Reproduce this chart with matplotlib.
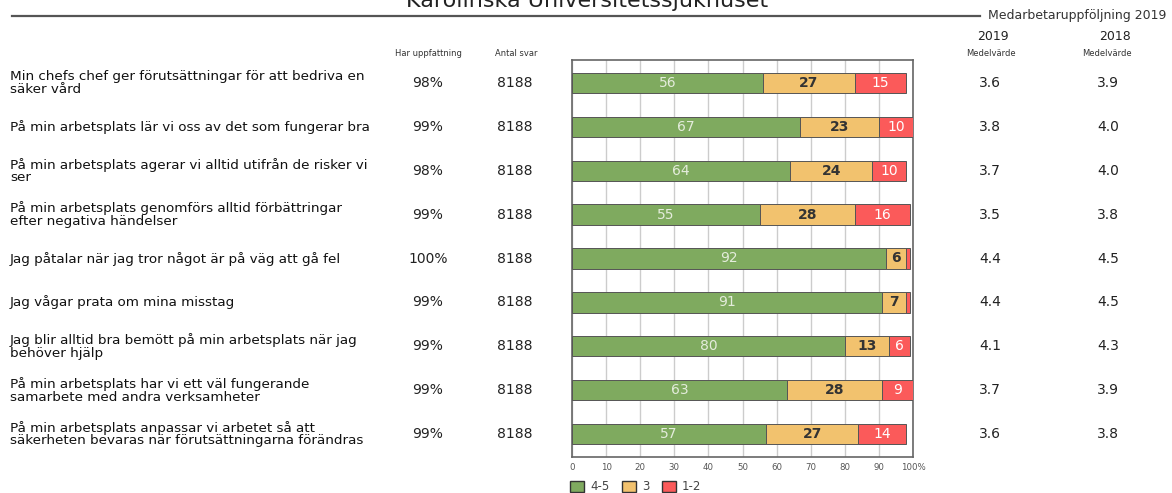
import matplotlib.pyplot as plt
from matplotlib.patches import Rectangle

plt.rcParams['font.family'] = ['DejaVu Sans']

questions = [
    "Min chefs chef ger förutsättningar för att bedriva en\nsäker vård",
    "På min arbetsplats lär vi oss av det som fungerar bra",
    "På min arbetsplats agerar vi alltid utifrån de risker vi\nser",
    "På min arbetsplats genomförs alltid förbättringar\nefter negativa händelser",
    "Jag påtalar när jag tror något är på väg att gå fel",
    "Jag vågar prata om mina misstag",
    "Jag blir alltid bra bemött på min arbetsplats när jag\nbehöver hjälp",
    "På min arbetsplats har vi ett väl fungerande\nsamarbete med andra verksamheter",
    "På min arbetsplats anpassar vi arbetet så att\nsäkerheten bevaras när förutsättningarna förändras",
]
har_uppfattning = ["98%", "99%", "98%", "99%", "100%", "99%", "99%", "99%", "99%"]
antal_svar = [8188] * 9
green = [56, 67, 64, 55, 92, 91, 80, 63, 57]
yellow = [27, 23, 24, 28, 6, 7, 13, 28, 27]
red = [15, 10, 10, 16, 1, 1, 6, 9, 14]
mean_2019 = [3.6, 3.8, 3.7, 3.5, 4.4, 4.4, 4.1, 3.7, 3.6]
mean_2018 = [3.9, 4.0, 4.0, 3.8, 4.5, 4.5, 4.3, 3.9, 3.8]
legend_labels = ["4-5", "3", "1-2"]

c_green = "#7faa5f"
c_yellow = "#f2c26e"
c_red = "#fb5a5a"
colors = [c_green, c_yellow, c_red]

W, H = 1172, 493
fig = plt.figure(figsize=(W / 100, H / 100), dpi=100)


def fx(px):
    return px / W


def fy(py):
    return 1 - py / H


ax = fig.add_axes([fx(572), fy(457), 341 / W, 397 / H])

rows = list(range(len(questions)))
left_red = [g + y for g, y in zip(green, yellow)]
ax.barh(rows, green, height=0.46, color=c_green, edgecolor="#555555", linewidth=0.7, zorder=3)
ax.barh(rows, yellow, left=green, height=0.46, color=c_yellow, edgecolor="#555555", linewidth=0.7, zorder=3)
ax.barh(rows, red, left=left_red, height=0.46, color=c_red, edgecolor="#555555", linewidth=0.7, zorder=3)

for i in rows:
    ax.text(green[i] / 2, i, str(green[i]), ha="center", va="center", color="#e4ecdc", fontsize=10, zorder=4)
    if yellow[i] >= 4:
        ax.text(green[i] + yellow[i] / 2, i, str(yellow[i]), ha="center", va="center",
                color="#333333", fontsize=10, fontweight="bold", zorder=4)
    if red[i] >= 4:
        ax.text(left_red[i] + red[i] / 2, i, str(red[i]), ha="center", va="center",
                color="white", fontsize=10, zorder=4)

ax.set_xlim(0, 100)
ax.set_ylim(len(questions) - 0.48, -0.52)
ax.set_xticks(range(0, 101, 10))
ax.set_xticklabels([str(v) for v in range(0, 100, 10)] + ["100%"], fontsize=6.2, color="#555555")
ax.set_yticks([])
ax.tick_params(axis="x", length=0, pad=4)
ax.grid(axis="x", color="#cccccc", linewidth=1, zorder=0)
for s in ax.spines.values():
    s.set_color("#666666")
    s.set_linewidth(1.2)

row_px = [83 + i * 43.9 for i in rows]
for i in rows:
    y = fy(row_px[i])
    fig.text(fx(10), y, questions[i], ha="left", va="center", fontsize=9.7, linespacing=0.95, color="#111111")
    fig.text(fx(428), y, har_uppfattning[i], ha="center", va="center", fontsize=10, color="#222222")
    fig.text(fx(515), y, str(antal_svar[i]), ha="center", va="center", fontsize=10, color="#222222")
    fig.text(fx(990), y, f"{mean_2019[i]:.1f}", ha="center", va="center", fontsize=10, color="#222222")
    fig.text(fx(1108), y, f"{mean_2018[i]:.1f}", ha="center", va="center", fontsize=10, color="#222222")

small = dict(ha="center", va="center", fontsize=6, color="#333333")
fig.text(fx(428), fy(54), "Har uppfattning", **small)
fig.text(fx(516), fy(54), "Antal svar", **small)
fig.text(fx(991), fy(54), "Medelvärde", **small)
fig.text(fx(1107), fy(54), "Medelvärde", **small)
fig.text(fx(993), fy(36), "2019", ha="center", va="center", fontsize=9, color="#222222")
fig.text(fx(1115), fy(36), "2018", ha="center", va="center", fontsize=9, color="#222222")

# header line and titles
fig.add_artist(plt.Line2D([fx(12), fx(980)], [fy(16), fy(16)], color="#555555", linewidth=1.6))
fig.text(fx(988), fy(16), "Medarbetaruppföljning 2019", ha="left", va="center", fontsize=9, color="#333333")
fig.text(fx(587), fy(7), "Karolinska Universitetssjukhuset", ha="center", va="baseline", fontsize=16, color="#222222")

# legend
leg_x = [570, 622, 662]
for x0, c, lab in zip(leg_x, colors, legend_labels):
    fig.add_artist(Rectangle((fx(x0), fy(492)), 14 / W, 11 / H, facecolor=c, edgecolor="#333333",
                             linewidth=1.0, transform=fig.transFigure))
    fig.text(fx(x0 + 20), fy(487), lab, ha="left", va="center", fontsize=8.5, color="#444444")

fig.savefig("out.png", dpi=100)
